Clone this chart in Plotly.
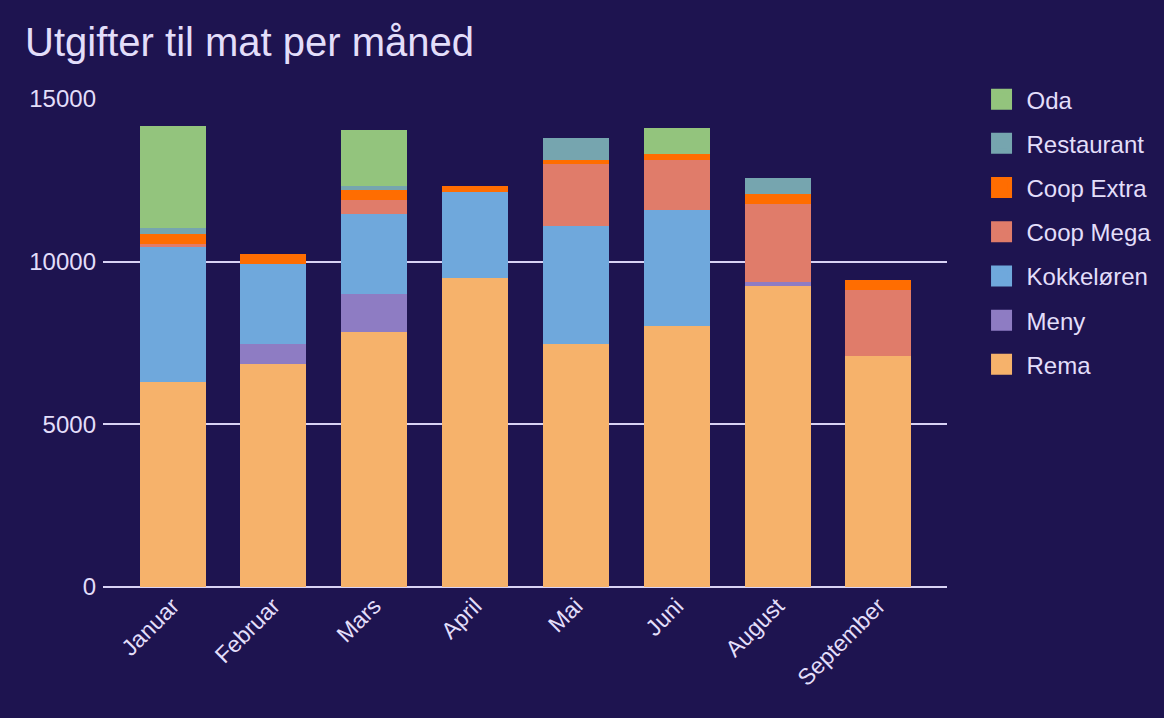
import plotly.graph_objects as go

months = ["Januar", "Februar", "Mars", "April", "Mai", "Juni", "August", "September"]

rema        = [6300, 6855, 7840, 9500, 7470, 8020, 9250, 7100]
meny        = [0, 615, 1170, 0, 0, 0, 125, 0]
kokkeloren  = [4180, 2460, 2460, 2640, 3630, 3570, 0, 0]
coop_mega   = [60, 0, 430, 0, 1905, 1535, 2395, 2030]
coop_extra  = [310, 305, 310, 185, 125, 185, 310, 305]
restaurant  = [185, 0, 125, 0, 675, 0, 490, 0]
oda         = [3135, 0, 1720, 0, 0, 800, 0, 0]

series = [
    ("Rema", rema, "#f6b26b"),
    ("Meny", meny, "#8e7cc3"),
    ("Kokkeløren", kokkeloren, "#6fa8dc"),
    ("Coop Mega", coop_mega, "#e07c6a"),
    ("Coop Extra", coop_extra, "#ff6d01"),
    ("Restaurant", restaurant, "#76a5af"),
    ("Oda", oda, "#93c47d"),
]

BG = "#1e1450"
TXT = "#e3defa"
FONT = "Liberation Sans, Arial, sans-serif"

fig = go.Figure()
for name, vals, color in series:
    fig.add_trace(go.Bar(
        x=months, y=vals, name=name, marker_color=color,
        marker_line_width=0, showlegend=False,
    ))
# legend entries, top (Oda) to bottom (Rema)
for name, vals, color in reversed(series):
    fig.add_trace(go.Scatter(
        x=[None], y=[None], mode="markers", name=name, legendgroup="lg_" + name,
        marker=dict(symbol="square", size=22, color=color,
                    line=dict(width=5, color=color)),
        showlegend=True,
    ))

fig.update_layout(
    width=1164, height=718,
    paper_bgcolor=BG, plot_bgcolor=BG,
    barmode="stack", bargap=0.345,
    margin=dict(l=103, r=217, t=99, b=131, autoexpand=False),
    font=dict(family=FONT, color=TXT, size=24),
    title=dict(text="Utgifter til mat per måned", x=25/1164, xref="container", xanchor="left",
               y=1 - 42/718, yref="container", yanchor="middle",
               font=dict(size=40, color=TXT, family=FONT)),
    legend=dict(x=1.035, xanchor="left", y=1.045, yanchor="top",
                traceorder="grouped", tracegroupgap=10, itemwidth=40,
                font=dict(size=24, color=TXT), bgcolor="rgba(0,0,0,0)",
                itemsizing="trace"),
    xaxis=dict(range=[-0.69, 7.68], tickangle=-45, showgrid=False,
               tickfont=dict(size=23, color=TXT), ticks="", showline=False),
    yaxis=dict(range=[0, 15000], tickvals=[0, 5000, 10000, 15000],
               ticktext=["0", "5000", "10000", "15000"],
               showgrid=True, gridcolor="#d9d3f5", gridwidth=1.5,
               zeroline=True, zerolinecolor="#d9d3f5", zerolinewidth=1.5,
               tickfont=dict(size=24, color=TXT), ticks="", ticklabelstandoff=6),
)

post = ("document.body.style.margin='0';"
        "document.body.style.background='%s';" % BG)
fig.write_html("out.html", post_script=post, config={"displayModeBar": False})
